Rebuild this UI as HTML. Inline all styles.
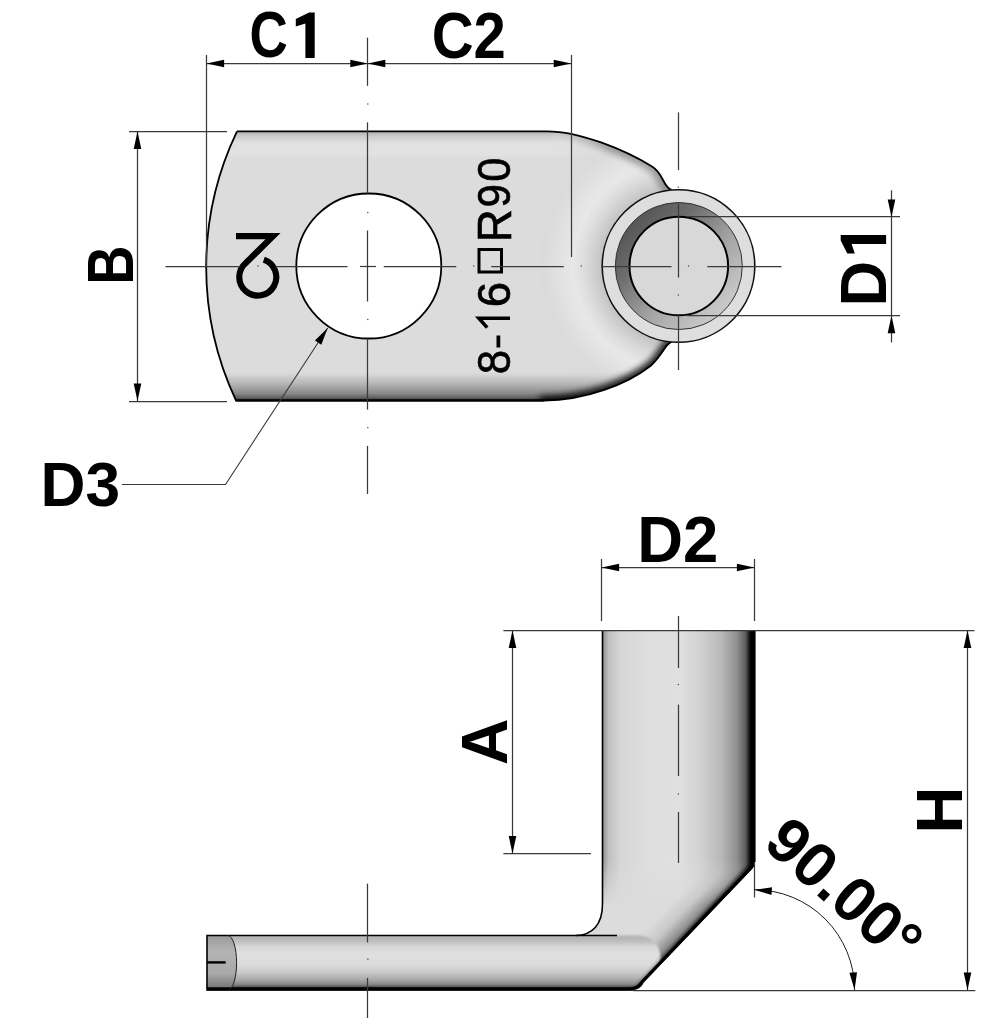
<!DOCTYPE html>
<html><head><meta charset="utf-8"><title>lug drawing</title>
<style>html,body{margin:0;padding:0;background:#fff;width:1000px;height:1018px;overflow:hidden} svg{display:block} text{font-family:"Liberation Sans",sans-serif;fill:#000;-webkit-font-smoothing:antialiased}</style>
</head><body>
<svg width="1000" height="1018" viewBox="0 0 1000 1018" style="will-change:transform">
<rect width="1000" height="1018" fill="#fff"/>
<defs>
<linearGradient id="topband" gradientUnits="userSpaceOnUse" x1="0" y1="131" x2="0" y2="160">
 <stop offset="0" stop-color="#b0b0b0"/><stop offset="0.2" stop-color="#cdcdcd"/><stop offset="0.4" stop-color="#e0e0e0"/>
 <stop offset="0.82" stop-color="#e2e2e2"/><stop offset="0.9" stop-color="#dddddd"/><stop offset="1" stop-color="#dcdcdc" stop-opacity="0"/>
</linearGradient>
<linearGradient id="botband" gradientUnits="userSpaceOnUse" x1="0" y1="370" x2="0" y2="401">
 <stop offset="0" stop-color="#dcdcdc" stop-opacity="0"/><stop offset="0.15" stop-color="#d6d6d6"/><stop offset="0.45" stop-color="#b4b4b4"/>
 <stop offset="0.75" stop-color="#8a8a8a"/><stop offset="0.9" stop-color="#606060"/><stop offset="1" stop-color="#202020"/>
</linearGradient>
<radialGradient id="neck" gradientUnits="userSpaceOnUse" cx="678.5" cy="266" r="170">
 <stop offset="0.44" stop-color="#c0c0c0"/><stop offset="0.5" stop-color="#d0d0d0"/><stop offset="0.56" stop-color="#dedede"/>
 <stop offset="0.62" stop-color="#e8e8e8"/><stop offset="0.7" stop-color="#e2e2e2"/><stop offset="0.8" stop-color="#dadada" stop-opacity="0.6"/>
 <stop offset="0.9" stop-color="#d9d9d9" stop-opacity="0"/>
</radialGradient>
<linearGradient id="chamf" gradientUnits="userSpaceOnUse" x1="625" y1="212" x2="732" y2="320">
 <stop offset="0" stop-color="#4c4c4c"/><stop offset="0.3" stop-color="#6e6e6e"/><stop offset="0.6" stop-color="#a4a4a4"/><stop offset="1" stop-color="#d4d4d4"/>
</linearGradient>
<linearGradient id="tbfade" gradientUnits="userSpaceOnUse" x1="545" y1="0" x2="610" y2="0"><stop offset="0" stop-color="#fff"/><stop offset="1" stop-color="#000"/></linearGradient>
<linearGradient id="trfade" gradientUnits="userSpaceOnUse" x1="560" y1="0" x2="610" y2="0"><stop offset="0" stop-color="#000"/><stop offset="1" stop-color="#fff"/></linearGradient>
<mask id="trmask" maskUnits="userSpaceOnUse" x="500" y="100" width="220" height="120"><rect x="500" y="100" width="220" height="120" fill="url(#trfade)"/></mask>
<mask id="tbmask"><rect x="190" y="120" width="520" height="50" fill="url(#tbfade)"/></mask>
<filter id="blur3" x="-20%" y="-20%" width="140%" height="140%"><feGaussianBlur stdDeviation="3"/></filter>
<filter id="blur1" x="-5%" y="-20%" width="110%" height="140%"><feGaussianBlur stdDeviation="1.3"/></filter>
<filter id="blur2" x="-20%" y="-20%" width="140%" height="140%"><feGaussianBlur stdDeviation="2"/></filter>
<clipPath id="bodyclip"><path id="bodyp" d="M237,131.3 L547,131.3 C580,131.3 625,150 652,166.5 C656,168.9 660,174 663,180 C666,186 668,189 671.5,189.9 A76.5,76.5 0 0 1 671.5,342 C669,342.5 667,345 665,348 C661,354 657,360 651,365.5 C628,384 585,400.5 544,400.5 L236,400.5 A314,314 0 0 1 237,131.3 Z"/></clipPath>
<linearGradient id="pipeg" gradientUnits="userSpaceOnUse" x1="602.5" y1="0" x2="755" y2="0">
 <stop offset="0" stop-color="#8c8c8c"/><stop offset="0.04" stop-color="#c0c0c0"/><stop offset="0.12" stop-color="#d6d6d6"/><stop offset="0.3" stop-color="#dedede"/>
 <stop offset="0.5" stop-color="#e0e0e0"/><stop offset="0.64" stop-color="#d2d2d2"/><stop offset="0.78" stop-color="#b8b8b8"/>
 <stop offset="0.88" stop-color="#909090"/><stop offset="0.94" stop-color="#5a5a5a"/><stop offset="0.965" stop-color="#101010"/><stop offset="1" stop-color="#000"/>
</linearGradient>
<linearGradient id="pipefade" gradientUnits="userSpaceOnUse" x1="0" y1="860" x2="0" y2="905">
 <stop offset="0" stop-color="#fff"/><stop offset="1" stop-color="#000"/>
</linearGradient>
<mask id="pipemask"><rect x="590" y="620" width="180" height="300" fill="url(#pipefade)"/></mask>
<linearGradient id="chamg" gradientUnits="userSpaceOnUse" x1="672" y1="902" x2="699" y2="928">
 <stop offset="0" stop-color="#dcdcdc"/><stop offset="0.4" stop-color="#c8c8c8"/><stop offset="0.75" stop-color="#8a8a8a"/><stop offset="0.92" stop-color="#404040"/><stop offset="1" stop-color="#000"/>
</linearGradient>
<linearGradient id="legg" gradientUnits="userSpaceOnUse" x1="0" y1="935.5" x2="0" y2="990">
 <stop offset="0" stop-color="#b0b0b0"/><stop offset="0.12" stop-color="#c0c0c0"/><stop offset="0.2" stop-color="#d8d8d8"/><stop offset="0.35" stop-color="#e0e0e0"/>
 <stop offset="0.55" stop-color="#dadada"/><stop offset="0.68" stop-color="#c8c8c8"/><stop offset="0.8" stop-color="#acacac"/><stop offset="0.9" stop-color="#888888"/><stop offset="0.95" stop-color="#404040"/><stop offset="1" stop-color="#000"/>
</linearGradient>
<linearGradient id="endg" gradientUnits="userSpaceOnUse" x1="0" y1="935.5" x2="0" y2="990">
 <stop offset="0" stop-color="#9a9a9a"/><stop offset="0.3" stop-color="#b4b4b4"/><stop offset="0.7" stop-color="#a8a8a8"/><stop offset="1" stop-color="#707070"/>
</linearGradient>
<clipPath id="sideclip"><path d="M602.5,630.5 H755 V862 Q755,866 751,870 L644,982 Q640,990 633,990 H207 V935.5 H576 C592,935 602.5,925 602.5,904 Z"/></clipPath>
</defs>
<g clip-path="url(#bodyclip)">
<rect x="200" y="125" width="500" height="285" fill="#dcdcdc"/>
<rect x="540" y="125" width="160" height="285" fill="url(#neck)"/>
<rect x="200" y="131" width="500" height="30" fill="url(#topband)" mask="url(#tbmask)"/>
<rect x="200" y="369" width="500" height="35" fill="url(#botband)"/>
<path d="M540,401 C585,401 628,384 651,365.5 C657,360 661,354 665,348 C667,345 669,342.5 672,342" fill="none" stroke="#000" stroke-width="10" filter="url(#blur3)" opacity="0.85"/>
<path d="M547,131.3 C580,131.3 625,150 652,166.5 C656,168.9 660,174 663,180 C666,186 668,189 671.5,189.9" fill="none" stroke="#000" stroke-width="12" filter="url(#blur3)" opacity="0.3" mask="url(#trmask)"/>
</g>
<path d="M237,131.3 L547,131.3 C580,131.3 625,150 652,166.5 C656,168.9 660,174 663,180 C666,186 668,189 671.5,189.9 M671.5,342 C669,342.5 667,345 665,348 C661,354 657,360 651,365.5 C628,384 585,400.5 544,400.5 L236,400.5 A314,314 0 0 1 237,131.3" fill="none" stroke="#000" stroke-width="1.8"/>
<path d="M544,400.5 L236,400.5" fill="none" stroke="#000" stroke-width="2.2"/>
<circle cx="368.8" cy="266" r="72.5" fill="#fff" stroke="#000" stroke-width="1.8"/>
<circle cx="678.5" cy="266" r="76.3" fill="#dedede" stroke="#111" stroke-width="1.6"/>
<circle cx="678.8" cy="266" r="63.5" fill="url(#chamf)" stroke="#333" stroke-width="1"/>
<circle cx="678.8" cy="266" r="49.3" fill="#d8d8d8" stroke="#000" stroke-width="2"/>
<path d="M236,236.2 H273 L245.8,263 A18.5,18.5 0 1 0 263.8,259.6" fill="none" stroke="#000" stroke-width="6.2" stroke-linejoin="miter" stroke-miterlimit="10"/>
<g>
<text transform="matrix(0 -43.8298 46.7845 0 510.032 374.163)" font-weight="normal" font-size="1" stroke="#000" stroke-width="0.014">8</text>
<rect x="496.5" y="335.5" width="3.75" height="12" fill="#000"/>
<path d="M510,318.25 H478.8 L487.2,327.6" fill="none" stroke="#000" stroke-width="3.5" stroke-linejoin="miter"/>
<text transform="matrix(0 -45.6216 46.7845 0 510.032 307.281)" font-weight="normal" font-size="1" stroke="#000" stroke-width="0.014">6</text>
<text transform="matrix(0 -45.7384 48.1455 0 510.500 242.173)" font-weight="normal" font-size="1" stroke="#000" stroke-width="0.014">R</text>
<text transform="matrix(0 -42.1739 46.7845 0 510.032 207.403)" font-weight="normal" font-size="1" stroke="#000" stroke-width="0.014">9</text>
<text transform="matrix(0 -43.5602 46.7845 0 510.032 181.742)" font-weight="normal" font-size="1" stroke="#000" stroke-width="0.014">0</text>
</g>
<rect x="479" y="249.5" width="22.5" height="22.5" fill="none" stroke="#000" stroke-width="3"/>
<line x1="367.5" y1="37.7" x2="367.5" y2="85.8" stroke="#3a3a3a" stroke-width="1.25"/>
<rect x="367.20" y="103.40" width="1.2" height="1.2" fill="#3a3a3a"/>
<line x1="367.5" y1="122.3" x2="367.5" y2="193.5" stroke="#3a3a3a" stroke-width="1.25"/>
<rect x="367.20" y="211.90" width="1.2" height="1.2" fill="#3a3a3a"/>
<line x1="367.5" y1="230.5" x2="367.5" y2="301.5" stroke="#3a3a3a" stroke-width="1.25"/>
<rect x="367.20" y="318.90" width="1.2" height="1.2" fill="#3a3a3a"/>
<line x1="367.5" y1="338.5" x2="367.5" y2="409.6" stroke="#3a3a3a" stroke-width="1.25"/>
<rect x="367.20" y="427.00" width="1.2" height="1.2" fill="#3a3a3a"/>
<line x1="367.5" y1="445.9" x2="367.5" y2="494" stroke="#3a3a3a" stroke-width="1.25"/>
<line x1="165.5" y1="266.5" x2="240.5" y2="266.5" stroke="#3a3a3a" stroke-width="1.25"/>
<rect x="257.40" y="265.40" width="1.2" height="1.2" fill="#3a3a3a"/>
<line x1="275.5" y1="266.5" x2="347.5" y2="266.5" stroke="#3a3a3a" stroke-width="1.25"/>
<line x1="360" y1="266.5" x2="376" y2="266.5" stroke="#3a3a3a" stroke-width="1.25"/>
<line x1="383.75" y1="266.5" x2="456.25" y2="266.5" stroke="#3a3a3a" stroke-width="1.25"/>
<rect x="473.15" y="265.40" width="1.2" height="1.2" fill="#3a3a3a"/>
<line x1="491.25" y1="266.5" x2="563.75" y2="266.5" stroke="#3a3a3a" stroke-width="1.25"/>
<rect x="580.65" y="265.40" width="1.2" height="1.2" fill="#3a3a3a"/>
<line x1="601.25" y1="266.5" x2="671.5" y2="266.5" stroke="#3a3a3a" stroke-width="1.25"/>
<rect x="687.90" y="265.40" width="1.2" height="1.2" fill="#3a3a3a"/>
<line x1="707.3" y1="266.5" x2="781.5" y2="266.5" stroke="#3a3a3a" stroke-width="1.25"/>
<line x1="678.5" y1="112.4" x2="678.5" y2="170.1" stroke="#3a3a3a" stroke-width="1.25"/>
<rect x="677.70" y="186.60" width="1.2" height="1.2" fill="#3a3a3a"/>
<line x1="678.5" y1="203.6" x2="678.5" y2="277.5" stroke="#3a3a3a" stroke-width="1.25"/>
<rect x="677.70" y="294.50" width="1.2" height="1.2" fill="#3a3a3a"/>
<line x1="678.5" y1="314" x2="678.5" y2="370" stroke="#3a3a3a" stroke-width="1.25"/>
<line x1="206.5" y1="55" x2="206.5" y2="266" stroke="#3a3a3a" stroke-width="1.25"/>
<line x1="571.5" y1="55" x2="571.5" y2="257" stroke="#3a3a3a" stroke-width="1.25"/>
<line x1="206.6" y1="63.5" x2="571.2" y2="63.5" stroke="#3a3a3a" stroke-width="1.25"/>
<path d="M206.60,63.50 L224.10,59.70 L224.10,67.30 Z" fill="#000"/>
<path d="M367.80,63.50 L350.30,67.30 L350.30,59.70 Z" fill="#000"/>
<path d="M367.80,63.50 L385.30,59.70 L385.30,67.30 Z" fill="#000"/>
<path d="M571.20,63.50 L553.70,67.30 L553.70,59.70 Z" fill="#000"/>
<text transform="matrix(52.9771 0 0 64.1696 249.581 57.358)" font-weight="bold" font-size="1">C</text>
<path d="M305.40,57.90 L314.70,57.90 L314.70,12.50 L309.11,12.50 L295.80,19.08 L295.80,26.62 L305.40,23.40 Z" fill="#000"/>
<text transform="matrix(58.0376 0 0 65.0177 431.678 57.850)" font-weight="bold" font-size="1">C2</text>
<line x1="129" y1="131.5" x2="227" y2="131.5" stroke="#3a3a3a" stroke-width="1.25"/>
<line x1="129" y1="401.5" x2="227" y2="401.5" stroke="#3a3a3a" stroke-width="1.25"/>
<line x1="137.5" y1="131.4" x2="137.5" y2="401" stroke="#3a3a3a" stroke-width="1.25"/>
<path d="M137.50,131.40 L141.30,148.90 L133.70,148.90 Z" fill="#000"/>
<path d="M137.50,401.00 L133.70,383.50 L141.30,383.50 Z" fill="#000"/>
<text transform="matrix(0 -54.2623 64.1455 0 132.800 284.763)" font-weight="bold" font-size="1">B</text>
<polyline points="122,484.5 225.5,484.5 327.7,328" fill="none" stroke="#3a3a3a" stroke-width="1.1"/>
<path d="M327.70,328.00 L321.30,344.73 L314.94,340.57 Z" fill="#000"/>
<text transform="matrix(62.2979 0 0 62.9577 40.595 505.713)" font-weight="bold" font-size="1">D3</text>
<line x1="687" y1="216.5" x2="900" y2="216.5" stroke="#3a3a3a" stroke-width="1.25"/>
<line x1="687" y1="315.5" x2="900" y2="315.5" stroke="#3a3a3a" stroke-width="1.25"/>
<line x1="891.5" y1="190.3" x2="891.5" y2="342.4" stroke="#3a3a3a" stroke-width="1.25"/>
<path d="M891.50,216.90 L887.70,199.40 L895.30,199.40 Z" fill="#000"/>
<path d="M891.50,315.80 L895.30,333.30 L887.70,333.30 Z" fill="#000"/>
<text transform="matrix(0 -63.3469 64.0000 0 886.100 306.476)" font-weight="bold" font-size="1">D</text>
<path d="M886.10,244.05 L886.10,235.00 L840.70,235.00 L840.70,240.45 L847.28,253.40 L854.82,253.40 L851.60,244.05 Z" fill="#000"/>
<g clip-path="url(#sideclip)">
<rect x="200" y="625" width="560" height="370" fill="url(#chamg)"/>
<rect x="602" y="625" width="154" height="300" fill="url(#pipeg)" mask="url(#pipemask)"/>
<path d="M207,935.5 H640 C656,937 662,950 660,962 C658,975 648,990 633,990 H207 Z" fill="url(#legg)" filter="url(#blur1)"/>
<path d="M207,935.5 H227.8 A8.8,27.25 0 0 1 227.8,990 H207 Z" fill="url(#endg)"/>
<path d="M758,628 V862 L640,990" fill="none" stroke="#000" stroke-width="9" filter="url(#blur2)" opacity="0.9"/>
</g>
<path d="M602.5,630.5 V904 C602.5,925 592,935 576,935.5 H207 V990 H633" fill="none" stroke="#000" stroke-width="1.6"/>
<line x1="576" y1="935.5" x2="617" y2="935.5" stroke="#000" stroke-width="1.6"/>
<path d="M752.6,630.5 V862 Q752.6,866 749,870 L642,982 Q638,988.5 630,988.8 H207" fill="none" stroke="#000" stroke-width="3.2"/>
<line x1="753.2" y1="631" x2="753.2" y2="862" stroke="#000" stroke-width="4.8"/>
<path d="M227.8,935.5 A8.8,27.25 0 0 1 227.8,990" fill="none" stroke="#222" stroke-width="1"/>
<line x1="207" y1="962.4" x2="225.7" y2="962.4" stroke="#000" stroke-width="2.4"/>
<line x1="503.4" y1="630.5" x2="974.5" y2="630.5" stroke="#3a3a3a" stroke-width="1.25"/>
<line x1="633" y1="990.5" x2="975.3" y2="990.5" stroke="#3a3a3a" stroke-width="1.25"/>
<line x1="678.5" y1="616" x2="678.5" y2="668" stroke="#3a3a3a" stroke-width="1.25"/>
<rect x="677.80" y="683.90" width="1.2" height="1.2" fill="#3a3a3a"/>
<line x1="678.5" y1="704.6" x2="678.5" y2="776" stroke="#3a3a3a" stroke-width="1.25"/>
<rect x="677.80" y="793.40" width="1.2" height="1.2" fill="#3a3a3a"/>
<line x1="678.5" y1="812" x2="678.5" y2="863" stroke="#3a3a3a" stroke-width="1.25"/>
<line x1="367.5" y1="883.6" x2="367.5" y2="942.4" stroke="#3a3a3a" stroke-width="1.25"/>
<rect x="367.30" y="958.60" width="1.2" height="1.2" fill="#3a3a3a"/>
<line x1="367.5" y1="978" x2="367.5" y2="1018" stroke="#3a3a3a" stroke-width="1.25"/>
<line x1="601.5" y1="559" x2="601.5" y2="621" stroke="#3a3a3a" stroke-width="1.25"/>
<line x1="754.5" y1="559" x2="754.5" y2="621" stroke="#3a3a3a" stroke-width="1.25"/>
<line x1="601.6" y1="567.5" x2="754.4" y2="567.5" stroke="#3a3a3a" stroke-width="1.25"/>
<path d="M601.60,567.50 L619.10,563.70 L619.10,571.30 Z" fill="#000"/>
<path d="M754.40,567.50 L736.90,571.30 L736.90,563.70 Z" fill="#000"/>
<text transform="matrix(63.5043 0 0 64.2294 637.213 562.000)" font-weight="bold" font-size="1">D2</text>
<line x1="503.4" y1="853.5" x2="591" y2="853.5" stroke="#3a3a3a" stroke-width="1.25"/>
<line x1="512.5" y1="630.5" x2="512.5" y2="853.4" stroke="#3a3a3a" stroke-width="1.25"/>
<path d="M512.50,630.50 L516.30,648.00 L508.70,648.00 Z" fill="#000"/>
<path d="M512.50,853.40 L508.70,835.90 L516.30,835.90 Z" fill="#000"/>
<text transform="matrix(0 -64.1791 64.0000 0 507.000 765.104)" font-weight="bold" font-size="1">A</text>
<line x1="967.5" y1="630.5" x2="967.5" y2="990" stroke="#3a3a3a" stroke-width="1.25"/>
<path d="M967.50,630.50 L971.30,648.00 L963.70,648.00 Z" fill="#000"/>
<path d="M967.50,990.00 L963.70,972.50 L971.30,972.50 Z" fill="#000"/>
<text transform="matrix(0 -65.0213 65.0182 0 962.200 833.489)" font-weight="bold" font-size="1">H</text>
<line x1="754.5" y1="862" x2="754.5" y2="897.5" stroke="#3a3a3a" stroke-width="1.25"/>
<path d="M754.3,889.7 A100.3,100.3 0 0 1 854.6,990" fill="none" stroke="#000" stroke-width="0.9"/>
<path d="M754.30,889.70 L772.05,887.31 L771.44,894.88 Z" fill="#000"/>
<path d="M854.60,990.00 L849.42,972.86 L856.99,972.25 Z" fill="#000"/>
<text transform="matrix(47.1635 41.9616 -41.9616 47.1635 761.621 846.049)" font-weight="bold" font-size="1">90.00°</text>
</svg>
</body></html>
